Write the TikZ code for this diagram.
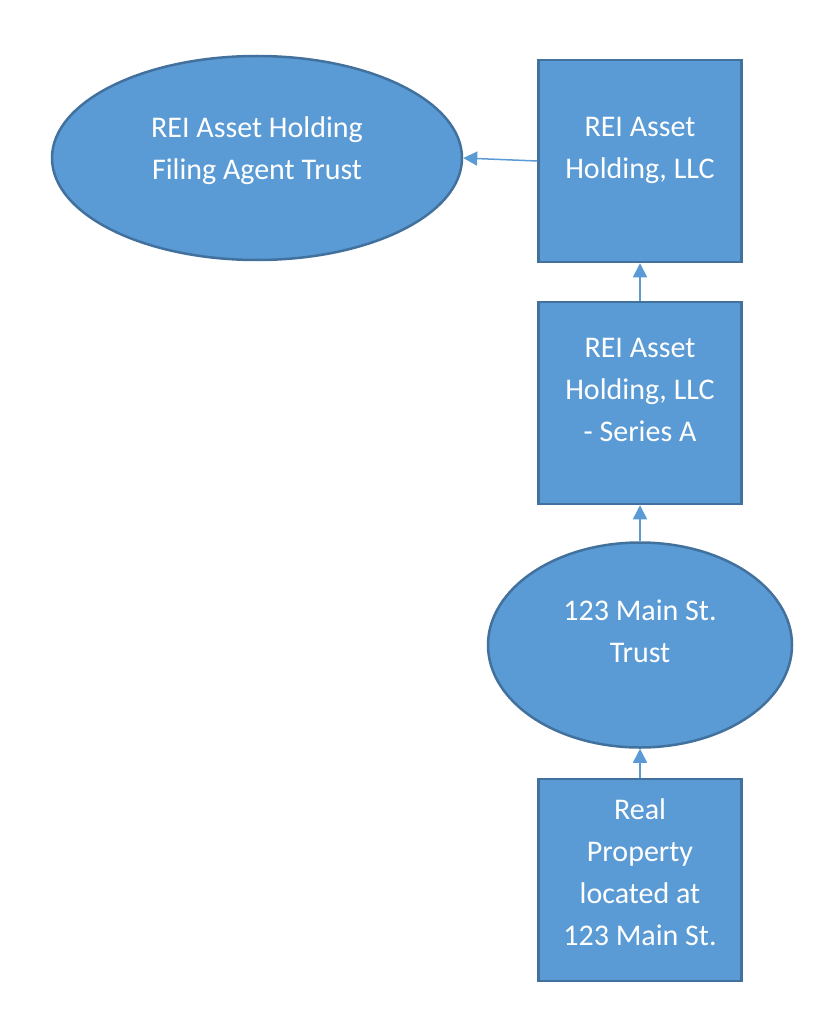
\documentclass[tikz,border=0pt]{standalone}
\usepackage{fontspec}
\setmainfont{Carlito}
\usetikzlibrary{shapes.geometric, arrows.meta}
\definecolor{fillblue}{HTML}{5B9BD5}
\definecolor{edgeblue}{HTML}{41719C}
\tikzstyle{entity} = [rectangle, minimum width=203pt, minimum height=202pt, text centered, align=center, text depth=27pt, draw=edgeblue, line width=2.5pt, fill=fillblue, text=white, font=\fontsize{30}{42}\selectfont]
\tikzstyle{trust}  = [ellipse, inner sep=0pt, text centered, align=center, text depth=27pt, draw=edgeblue, line width=2.5pt, fill=fillblue, text=white, font=\fontsize{30}{42}\selectfont]
\tikzstyle{arrow}  = [line width=1.5pt, draw=fillblue, -{Triangle[width=14pt,length=14pt]}]

\begin{document}
\begin{tikzpicture}[x=1pt, y=1pt]
            \useasboundingbox (0,0) rectangle (829,-1024);
            % 1. LLC (top box)
            \node (llc) [entity] at (640,-161) {REI Asset\\Holding, LLC};
            % 2. Filing agent trust (left ellipse)
            \node (agent) [trust, text depth=20pt, minimum width=410pt, minimum height=204pt, left of=llc, node distance=383pt, yshift=3pt] {REI Asset Holding\\Filing Agent Trust};
            % 3. Series A (box)
            \node (series) [entity, below of=llc, node distance=242pt] {REI Asset\\Holding, LLC\\- Series A};
            % 4. Property trust (ellipse)
            \node (maintrust) [trust, text depth=28pt, minimum width=304pt, minimum height=205pt, below of=series, node distance=242pt] {123 Main St.\\Trust};
            % 5. Real property (bottom box)
            \node (property) [entity, text depth=15pt, below of=maintrust, node distance=235pt] {Real\\Property\\located at\\123 Main St.};

            % ownership arrows
            \draw [arrow] (llc.west) -- (agent.east);
            \draw [arrow] (series.north) -- (llc.south);
            \draw [arrow] (maintrust.north) -- (series.south);
            \draw [arrow] (property.north) -- (maintrust.south);

        \end{tikzpicture}
\end{document}
